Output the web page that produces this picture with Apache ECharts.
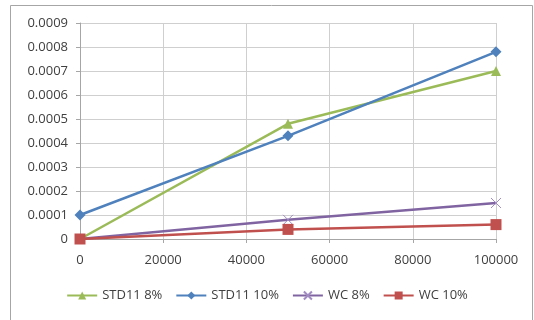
<!DOCTYPE html>
<html>
<head>
<meta charset="utf-8">
<script src="https://cdn.jsdelivr.net/npm/echarts@6/dist/echarts.min.js"></script>
<style>
  html, body { margin: 0; padding: 0; background: #ffffff; }
  #chart { width: 534px; height: 320px; }
</style>
</head>
<body>
<div id="chart"></div>
<script>
// Sample sizes on the x axis
const xValues = [0, 50000, 100000];

// Series values at each sample size
const std11_8 = [0, 0.00048, 0.0007];
const std11_10 = [0.0001, 0.00043, 0.00078];
const wc_8 = [0, 0.00008, 0.00015];
const wc_10 = [0, 0.00004, 0.00006];

const seriesNames = ['STD11 8%', 'STD11 10%', 'WC 8%', 'WC 10%'];

const pairs = (ys) => xValues.map((x, i) => [x, ys[i]]);

const labelFont = { fontFamily: 'Open Sans', fontSize: 13, color: '#404040' };

const chart = echarts.init(document.getElementById('chart'), null, { renderer: 'canvas' });

chart.setOption({
  animation: false,
  backgroundColor: '#ffffff',
  graphic: [{
    type: 'rect',
    shape: { x: 10.5, y: 5.5, width: 522, height: 330 },
    style: { fill: 'none', stroke: '#a6a6a6', lineWidth: 1 },
    silent: true
  }],
  grid: { left: 80, right: 38, top: 23, bottom: 81, containLabel: false },
  xAxis: {
    type: 'value',
    min: 0, max: 100000, interval: 20000,
    axisLine: { show: true, lineStyle: { color: '#a6a6a6' } },
    axisTick: { show: true, length: 4, inside: false, lineStyle: { color: '#a6a6a6' } },
    axisLabel: Object.assign({ margin: 15, formatter: (v) => String(v) }, labelFont),
    splitLine: { show: true, lineStyle: { color: '#cfcfcf' } }
  },
  yAxis: {
    type: 'value',
    min: 0, max: 0.0009, interval: 0.0001,
    axisLine: { show: true, lineStyle: { color: '#a6a6a6' } },
    axisTick: { show: true, length: 4, lineStyle: { color: '#a6a6a6' } },
    axisLabel: Object.assign({
      margin: 12,
      formatter: (v) => v === 0 ? '0' : v.toFixed(4)
    }, labelFont),
    splitLine: { show: true, lineStyle: { color: '#cfcfcf' } }
  },
  legend: {
    bottom: 13,
    left: 'center',
    itemWidth: 30,
    itemHeight: 10,
    itemGap: 13,
    textStyle: { fontFamily: 'Open Sans', fontSize: 13, color: '#404040' },
    data: seriesNames
  },
  series: [
    {
      name: seriesNames[0], type: 'line', data: pairs(std11_8),
      symbol: 'triangle', symbolSize: 10,
      lineStyle: { width: 2.5, color: '#9bbb59' },
      itemStyle: { color: '#9bbb59' }, z: 3
    },
    {
      name: seriesNames[1], type: 'line', data: pairs(std11_10),
      symbol: 'diamond', symbolSize: 11,
      lineStyle: { width: 2.5, color: '#4f81bd' },
      itemStyle: { color: '#4f81bd' }, z: 4
    },
    {
      name: seriesNames[2], type: 'line', data: pairs(wc_8),
      symbol: 'path://M0,0 L10,10 M10,0 L0,10', symbolSize: 10,
      lineStyle: { width: 2.5, color: '#8064a2' },
      itemStyle: { color: 'none', borderColor: '#a08cc0', borderWidth: 1 }, z: 2
    },
    {
      name: seriesNames[3], type: 'line', data: pairs(wc_10),
      symbol: 'rect', symbolSize: 11,
      lineStyle: { width: 2.5, color: '#c0504d' },
      itemStyle: { color: '#c0504d' }, z: 5
    }
  ]
});
</script>
</body>
</html>
